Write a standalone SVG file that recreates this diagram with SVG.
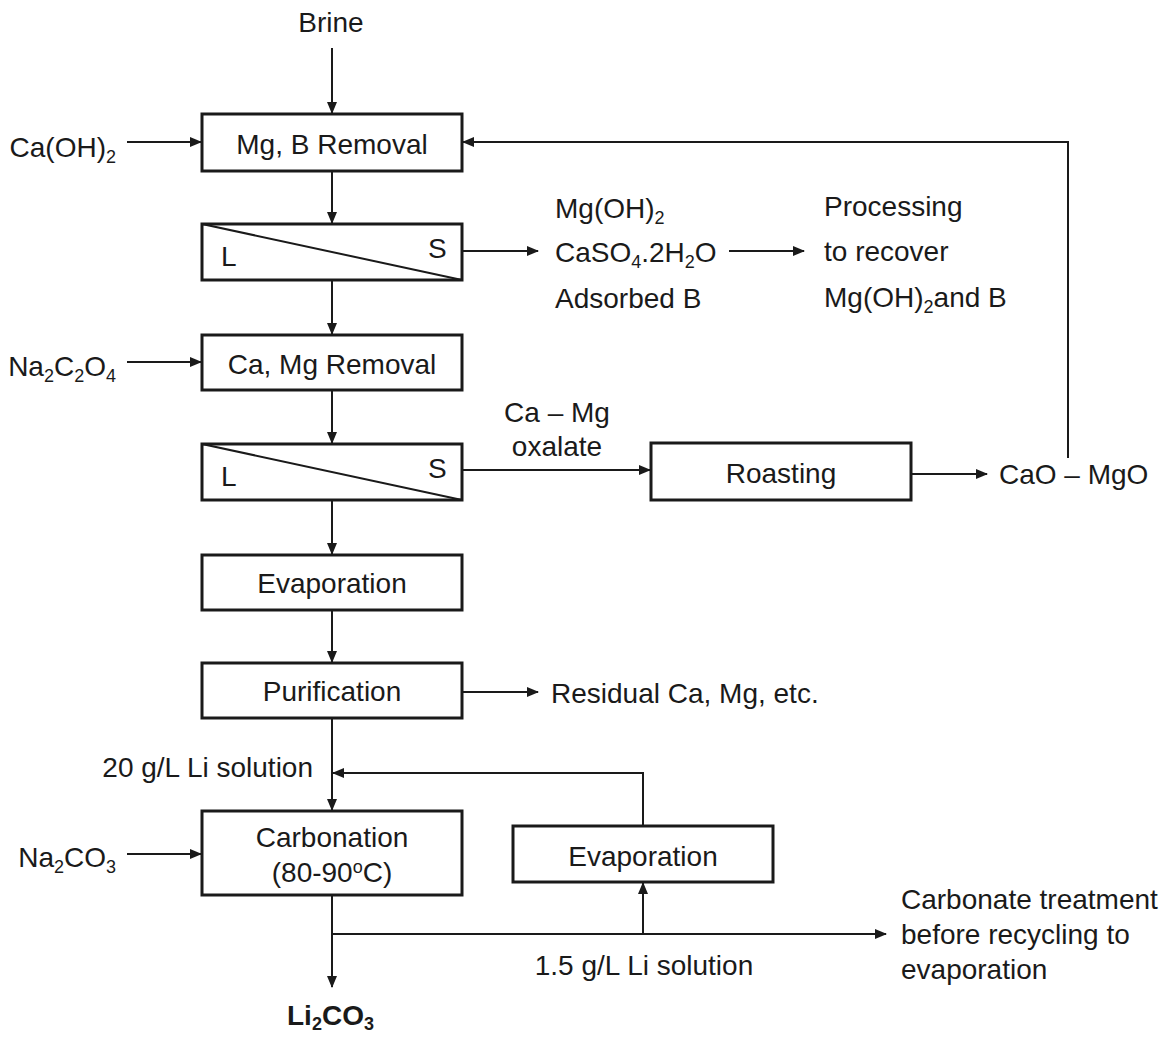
<svg xmlns="http://www.w3.org/2000/svg" width="1173" height="1039" viewBox="0 0 1173 1039">
<style>
text{font-family:"Liberation Sans",Arial,sans-serif;font-size:28px;fill:#1a1a1a}
.c{text-anchor:middle}
.e{text-anchor:end}
.box{fill:#fff;stroke:#1a1a1a;stroke-width:3}
.ln{fill:none;stroke:#1a1a1a;stroke-width:2}
.sub{font-size:18px}
</style>
<defs>
<marker id="ah" markerUnits="userSpaceOnUse" markerWidth="12" markerHeight="10" refX="11" refY="5" orient="auto">
<path d="M0,0 L12,5 L0,10 Z" fill="#1a1a1a"/>
</marker>
</defs>
<g id="connectors">
<line class="ln" x1="332" y1="48" x2="332" y2="113" marker-end="url(#ah)"/>
<line class="ln" x1="127" y1="142" x2="201" y2="142" marker-end="url(#ah)"/>
<line class="ln" x1="332" y1="172" x2="332" y2="223" marker-end="url(#ah)"/>
<line class="ln" x1="463" y1="251" x2="538" y2="251" marker-end="url(#ah)"/>
<line class="ln" x1="729" y1="251" x2="804" y2="251" marker-end="url(#ah)"/>
<line class="ln" x1="332" y1="281" x2="332" y2="334" marker-end="url(#ah)"/>
<line class="ln" x1="127" y1="362" x2="201" y2="362" marker-end="url(#ah)"/>
<line class="ln" x1="332" y1="391" x2="332" y2="443" marker-end="url(#ah)"/>
<line class="ln" x1="463" y1="470" x2="650" y2="470" marker-end="url(#ah)"/>
<line class="ln" x1="912" y1="474" x2="987" y2="474" marker-end="url(#ah)"/>
<polyline class="ln" points="1068,458 1068,142 463,142" marker-end="url(#ah)"/>
<line class="ln" x1="332" y1="501" x2="332" y2="554" marker-end="url(#ah)"/>
<line class="ln" x1="332" y1="611" x2="332" y2="662" marker-end="url(#ah)"/>
<line class="ln" x1="463" y1="692" x2="538" y2="692" marker-end="url(#ah)"/>
<line class="ln" x1="332" y1="719" x2="332" y2="810" marker-end="url(#ah)"/>
<polyline class="ln" points="643,825 643,773 333,773" marker-end="url(#ah)"/>
<line class="ln" x1="127" y1="854" x2="201" y2="854" marker-end="url(#ah)"/>
<line class="ln" x1="332" y1="896" x2="332" y2="987" marker-end="url(#ah)"/>
<line class="ln" x1="332" y1="934" x2="886" y2="934" marker-end="url(#ah)"/>
<line class="ln" x1="643" y1="934" x2="643" y2="883" marker-end="url(#ah)"/>
</g>
<g id="brine"><text class="c" x="331" y="32">Brine</text></g>
<g id="caoh2"><text class="e" x="116" y="157">Ca(OH)<tspan class="sub" dy="6">2</tspan></text></g>
<g id="mgb-removal"><rect class="box" x="202" y="114" width="260" height="57"/><text class="c" x="332" y="154">Mg, B Removal</text></g>
<g id="sep1"><rect class="box" x="202" y="224" width="260" height="56"/><line class="ln" x1="202" y1="224" x2="462" y2="280"/><text x="221" y="266">L</text><text x="428" y="258">S</text></g>
<g id="solids1"><text x="555" y="218">Mg(OH)<tspan class="sub" dy="6">2</tspan></text><text x="555" y="262">CaSO<tspan class="sub" dy="6">4</tspan><tspan dy="-6">.2H</tspan><tspan class="sub" dy="6">2</tspan><tspan dy="-6">O</tspan></text><text x="555" y="308">Adsorbed B</text></g>
<g id="processing"><text x="824" y="216">Processing</text><text x="824" y="261">to recover</text><text x="824" y="307">Mg(OH)<tspan class="sub" dy="6">2</tspan><tspan dy="-6">and B</tspan></text></g>
<g id="na2c2o4"><text class="e" x="116" y="376">Na<tspan class="sub" dy="6">2</tspan><tspan dy="-6">C</tspan><tspan class="sub" dy="6">2</tspan><tspan dy="-6">O</tspan><tspan class="sub" dy="6">4</tspan></text></g>
<g id="camg-removal"><rect class="box" x="202" y="335" width="260" height="55"/><text class="c" x="332" y="374">Ca, Mg Removal</text></g>
<g id="sep2"><rect class="box" x="202" y="444" width="260" height="56"/><line class="ln" x1="202" y1="444" x2="462" y2="500"/><text x="221" y="486">L</text><text x="428" y="478">S</text></g>
<g id="oxalate"><text class="c" x="557" y="422">Ca – Mg</text><text class="c" x="557" y="456">oxalate</text></g>
<g id="roasting"><rect class="box" x="651" y="443" width="260" height="57"/><text class="c" x="781" y="483">Roasting</text></g>
<g id="caomgo"><text x="999" y="484">CaO – MgO</text></g>
<g id="evaporation1"><rect class="box" x="202" y="555" width="260" height="55"/><text class="c" x="332" y="593">Evaporation</text></g>
<g id="purification"><rect class="box" x="202" y="663" width="260" height="55"/><text class="c" x="332" y="701">Purification</text></g>
<g id="residual"><text x="551" y="703">Residual Ca, Mg, etc.</text></g>
<g id="li20"><text class="e" x="313" y="777">20 g/L Li solution</text></g>
<g id="na2co3"><text class="e" x="116" y="867">Na<tspan class="sub" dy="6">2</tspan><tspan dy="-6">CO</tspan><tspan class="sub" dy="6">3</tspan></text></g>
<g id="carbonation"><rect class="box" x="202" y="811" width="260" height="84"/><text class="c" x="332" y="847">Carbonation</text><text class="c" x="332" y="882">(80-90<tspan class="sub" dy="-9">o</tspan><tspan dy="9">C)</tspan></text></g>
<g id="evaporation2"><rect class="box" x="513" y="826" width="260" height="56"/><text class="c" x="643" y="866">Evaporation</text></g>
<g id="li15"><text class="c" x="644" y="975">1.5 g/L Li solution</text></g>
<g id="carbonate-treatment"><text x="901" y="909">Carbonate treatment</text><text x="901" y="944">before recycling to</text><text x="901" y="979">evaporation</text></g>
<g id="li2co3"><text x="287" y="1025" font-weight="bold" font-size="26">Li<tspan font-size="18" dy="5">2</tspan><tspan dy="-5">CO</tspan><tspan font-size="18" dy="5">3</tspan></text></g>
</svg>
